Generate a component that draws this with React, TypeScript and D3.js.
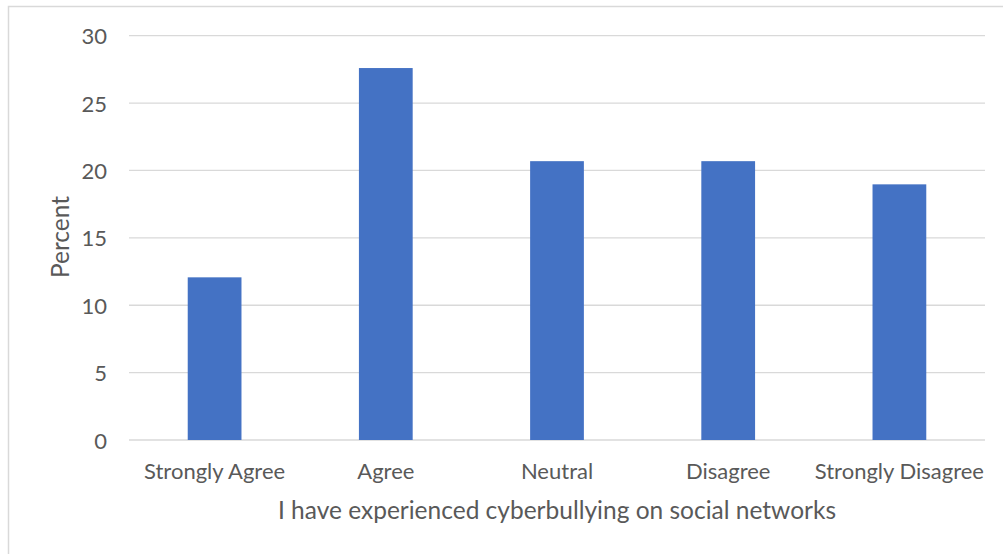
import React from "react";
import * as d3 from "d3";

const categories = ["Strongly Agree", "Agree", "Neutral", "Disagree", "Strongly Disagree"];
const percents = [12.07, 27.6, 20.69, 20.69, 18.97];
const yTicks = [0, 5, 10, 15, 20, 25, 30];
const xTitle = "I have experienced cyberbullying on social networks";
const yTitle = "Percent";

const W = 1003;
const H = 554;
const FONT = "Lato, 'Open Sans', sans-serif";
const TEXT = "#595959";

export default function App() {
  const x = d3
    .scaleBand<string>()
    .domain(categories)
    .range([129, 985])
    .paddingInner(0.686)
    .paddingOuter(0.343);
  const y = d3.scaleLinear().domain([0, 30]).range([440, 35.7]);

  return (
    <svg
      width={W}
      height={H}
      style={{ position: "absolute", left: 0, top: 0, background: "#fff" }}
    >
      <rect x={8.5} y={6.5} width={W + 10} height={H + 10} fill="#fff" stroke="#d9d9d9" strokeWidth={1.5} />
      {yTicks.map((t) => (
        <g key={t}>
          <line x1={129} x2={985} y1={y(t)} y2={y(t)} stroke="#d9d9d9" strokeWidth={1.3} />
          <text
            x={107}
            y={y(t)}
            textAnchor="end"
            dominantBaseline="central"
            fontFamily={FONT}
            fontSize={22}
            fill={TEXT}
          >
            {t}
          </text>
        </g>
      ))}
      {categories.map((c, i) => (
        <rect
          key={c}
          x={x(c)}
          y={y(percents[i])}
          width={x.bandwidth()}
          height={y(0) - y(percents[i])}
          fill="#4472c4"
        />
      ))}
      {categories.map((c) => (
        <text
          key={c}
          x={(x(c) as number) + x.bandwidth() / 2}
          y={479}
          textAnchor="middle"
          fontFamily={FONT}
          fontSize={22}
          fill={TEXT}
        >
          {c}
        </text>
      ))}
      <text
        x={557}
        y={519}
        textAnchor="middle"
        fontFamily={FONT}
        fontSize={24.5}
        fill={TEXT}
      >
        {xTitle}
      </text>
      <text
        transform={`translate(69,237) rotate(-90)`}
        textAnchor="middle"
        fontFamily={FONT}
        fontSize={24.5}
        fill={TEXT}
      >
        {yTitle}
      </text>
    </svg>
  );
}
